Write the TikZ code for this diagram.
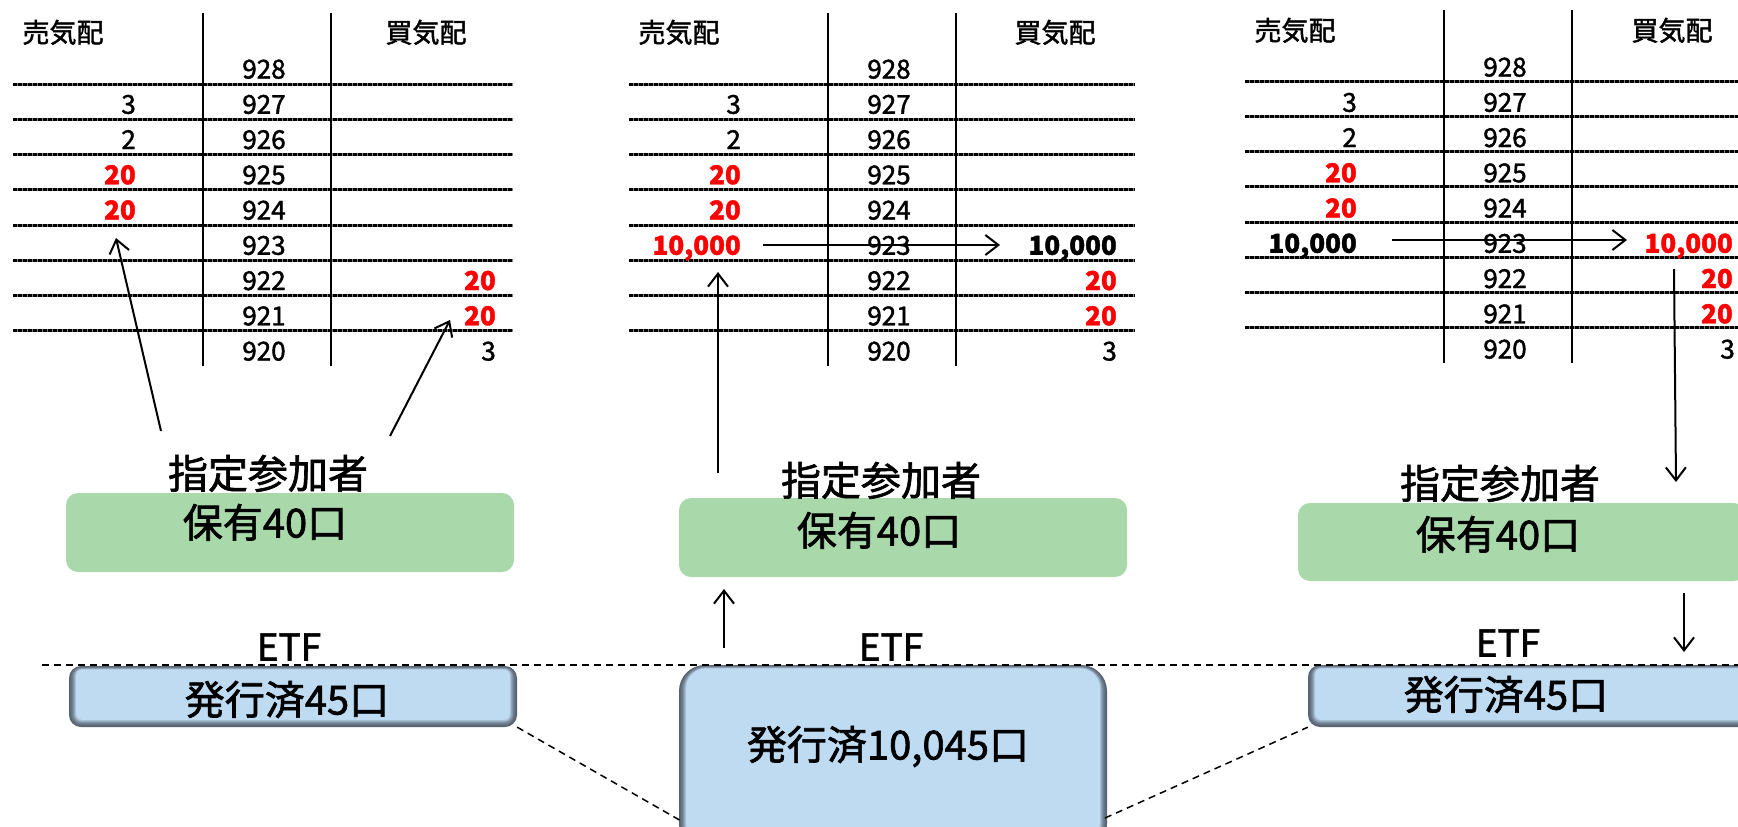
\documentclass[tikz,border=0pt]{standalone}
\usepackage{fontspec}
\setmainfont{Noto Sans CJK JP}[FakeBold=1.6]
\usetikzlibrary{arrows.meta,fit}
\definecolor{gfill}{RGB}{169,216,170}
\definecolor{bfill}{RGB}{191,219,242}
\definecolor{bdark}{RGB}{88,99,114}
\definecolor{qred}{RGB}{255,0,0}
\tikzset{
  cell/.style={inner sep=0pt, font=\fontsize{26}{26}\selectfont, text height=19pt, text depth=0pt},
  hdr/.style={inner sep=0pt, font=\fontsize{27}{27}\selectfont, text height=19pt, text depth=0pt},
  qty/.style={cell, anchor=east},
  redq/.style={qty, text=qred, font=\fontsize{26}{26}\selectfont\bfseries},
  boldq/.style={qty, font=\fontsize{26}{26}\selectfont\bfseries},
  big/.style={inner sep=0pt, font=\fontsize{40}{40}\selectfont, text height=29pt, text depth=0pt},
  etf/.style={inner sep=0pt, font=\fontsize{37}{37}\selectfont, text height=27pt, text depth=0pt},
  tbase/.style={line width=3pt, black!50},
  tline/.style={line width=3pt, black, dash pattern=on 3.5pt off 1.5pt},
  vline/.style={line width=2pt, black},
  arr/.style={line width=2pt, -{Straight Barb[length=13pt,width=20pt,line width=2pt]}},
  etfline/.style={line width=1.8pt, dash pattern=on 7pt off 5pt},
  diag/.style={line width=1.5pt, dash pattern=on 7pt off 5pt},
  greenbox/.style={fill=gfill, rounded corners=12pt, draw=none, inner sep=0pt}
}
\newcommand\glowbox[6]{%
  \foreach \i in {0,...,9}{%
    \pgfmathtruncatemacro\p{min(100,\i*\i*1.3+\i*3)}%
    \pgfmathsetmacro\rr{max(#6-\i*0.8,2)}%
    \fill[bfill!\p!bdark, rounded corners=\rr pt] (#2+\i*0.9,#3+\i*0.45) rectangle (#4-\i*0.9,#5-\i*0.9);
  }%
  \coordinate (#1-nw) at (#2,#3);
  \coordinate (#1-se) at (#4,#5);
  \node[fit=(#1-nw)(#1-se), inner sep=0pt] (#1) {};
}
\newcommand\tabline[3]{% x1, x2, y
  \draw[tbase] (#1,#3) -- (#2,#3);
  \draw[tline] (#1,#3) -- (#2,#3);
}
\begin{document}
\begin{tikzpicture}[x=1pt,y=-1pt]
\useasboundingbox (0,0) rectangle (1738,827);
\fill[white] (0,0) rectangle (1738,827);

% ================= Panel 1 =================
\foreach \k in {0,...,7} {\tabline{13}{513}{84+35.25*\k}}
\draw[vline] (203,13) -- (203,366);
\draw[vline] (331,13) -- (331,366);
\node[hdr] (s1h) at (63,33) {売気配};
\node[hdr] (b1h) at (426,33) {買気配};
\foreach \k/\v in {0/928,1/927,2/926,3/925,4/924,5/923,6/922,7/921,8/920}
  \node[cell] (p1-\v) at (264,69+35.25*\k) {\v};
\node[qty]  (a1-927) at (136,69+35.25*1) {3};
\node[qty]  (a1-926) at (136,69+35.25*2) {2};
\node[redq] (a1-925) at (136,69+35.25*3) {20};
\node[redq] (a1-924) at (136,69+35.25*4) {20};
\node[redq] (c1-922) at (496,69+35.25*6) {20};
\node[redq] (c1-921) at (496,69+35.25*7) {20};
\node[qty]  (c1-920) at (496,69+35.25*8) {3};

\node[greenbox, minimum width=448pt, minimum height=79pt] (g1) at (290,532.5) {};
\node[big] (dp1) at (268,474) {指定参加者};
\node[big] (h1) at (265,523) {保有40口};
\coordinate (t1a) at (161,431);
\coordinate (e1a) at (116,238);
\coordinate (t1b) at (390,436);
\coordinate (e1b) at (450,320);
\draw[arr] (t1a) -- (e1a);
\draw[arr] (t1b) -- (e1b);

\glowbox{bx1}{69}{666}{517}{727}{12}
\node[etf] (etf1) at (289,647) {ETF};
\node[big] (i1) at (287,700) {発行済45口};

% ================= Panel 2 =================
\foreach \k in {0,...,7} {\tabline{629}{1135}{84+35.25*\k}}
\draw[vline] (828,13) -- (828,366);
\draw[vline] (956,13) -- (956,366);
\node[hdr] (s2h) at (679,33) {売気配};
\node[hdr] (b2h) at (1055,33) {買気配};
\foreach \k/\v in {0/928,1/927,2/926,3/925,4/924,5/923,6/922,7/921,8/920}
  \node[cell] (p2-\v) at (889,69+35.25*\k) {\v};
\node[qty]  (a2-927) at (741,69+35.25*1) {3};
\node[qty]  (a2-926) at (741,69+35.25*2) {2};
\node[redq] (a2-925) at (741,69+35.25*3) {20};
\node[redq] (a2-924) at (741,69+35.25*4) {20};
\node[redq] (a2-923) at (741,69+35.25*5) {10,000};
\node[boldq] (c2-923) at (1117,69+35.25*5) {10,000};
\node[redq] (c2-922) at (1117,69+35.25*6) {20};
\node[redq] (c2-921) at (1117,69+35.25*7) {20};
\node[qty]  (c2-920) at (1117,69+35.25*8) {3};
\coordinate (t2h) at (763,245);
\coordinate (e2h) at (1000,245);
\draw[arr] (t2h) -- (e2h);

\node[greenbox, minimum width=448pt, minimum height=79pt] (g2) at (903,537.5) {};
\node[big] (dp2) at (881,481) {指定参加者};
\node[big] (h2) at (879,531) {保有40口};
\coordinate (t2u) at (718,473);
\coordinate (e2u) at (718,272);
\draw[arr] (t2u) -- (e2u);
\coordinate (t2l) at (724,648);
\coordinate (e2l) at (724,589);
\draw[arr] (t2l) -- (e2l);

\glowbox{bx2}{679}{665}{1107}{850}{26}
\node[etf] (etf2) at (891,647) {ETF};
\node[big] (i2) at (888,745) {発行済10,045口};

% ================= Panel 3 =================
\foreach \k in {0,...,7} {\tabline{1245}{1738}{81+35.25*\k}}
\draw[vline] (1444,10) -- (1444,363);
\draw[vline] (1572,10) -- (1572,363);
\node[hdr] (s3h) at (1295,31) {売気配};
\node[hdr] (b3h) at (1672,31) {買気配};
\foreach \k/\v in {0/928,1/927,2/926,3/925,4/924,5/923,6/922,7/921,8/920}
  \node[cell] (p3-\v) at (1505,67+35.25*\k) {\v};
\node[qty]  (a3-927) at (1357,67+35.25*1) {3};
\node[qty]  (a3-926) at (1357,67+35.25*2) {2};
\node[redq] (a3-925) at (1357,67+35.25*3) {20};
\node[redq] (a3-924) at (1357,67+35.25*4) {20};
\node[boldq] (a3-923) at (1357,67+35.25*5) {10,000};
\node[redq] (c3-923) at (1733,67+35.25*5) {10,000};
\node[redq] (c3-922) at (1733,67+35.25*6) {20};
\node[redq] (c3-921) at (1733,67+35.25*7) {20};
\node[qty]  (c3-920) at (1735,67+35.25*8) {3};
\coordinate (t3h) at (1392,240);
\coordinate (e3h) at (1627,240);
\draw[arr] (t3h) -- (e3h);

\node[greenbox, minimum width=448pt, minimum height=78pt] (g3) at (1522,542) {};
\node[big] (dp3) at (1500,484) {指定参加者};
\node[big] (h3) at (1498,535) {保有40口};
\coordinate (t3d) at (1674,269);
\coordinate (e3d) at (1676,482);
\draw[arr] (t3d) -- (e3d);
\coordinate (t3l) at (1684,593);
\coordinate (e3l) at (1684,652);
\draw[arr] (t3l) -- (e3l);

\glowbox{bx3}{1308}{665}{1760}{727}{12}
\node[etf] (etf3) at (1508,643) {ETF};
\node[big] (i3) at (1506,695) {発行済45口};

% ================= dashed connectors =================
\coordinate (lstart) at (42,665);
\coordinate (lend) at (1738,665);
\draw[etfline] (lstart) -- (lend);
\coordinate (d1b) at (683,822);
\coordinate (d2a) at (1105,818);
\draw[diag] (bx1.south east) -- (d1b);
\draw[diag] (d2a) -- (bx3.south west);
\end{tikzpicture}
\end{document}
